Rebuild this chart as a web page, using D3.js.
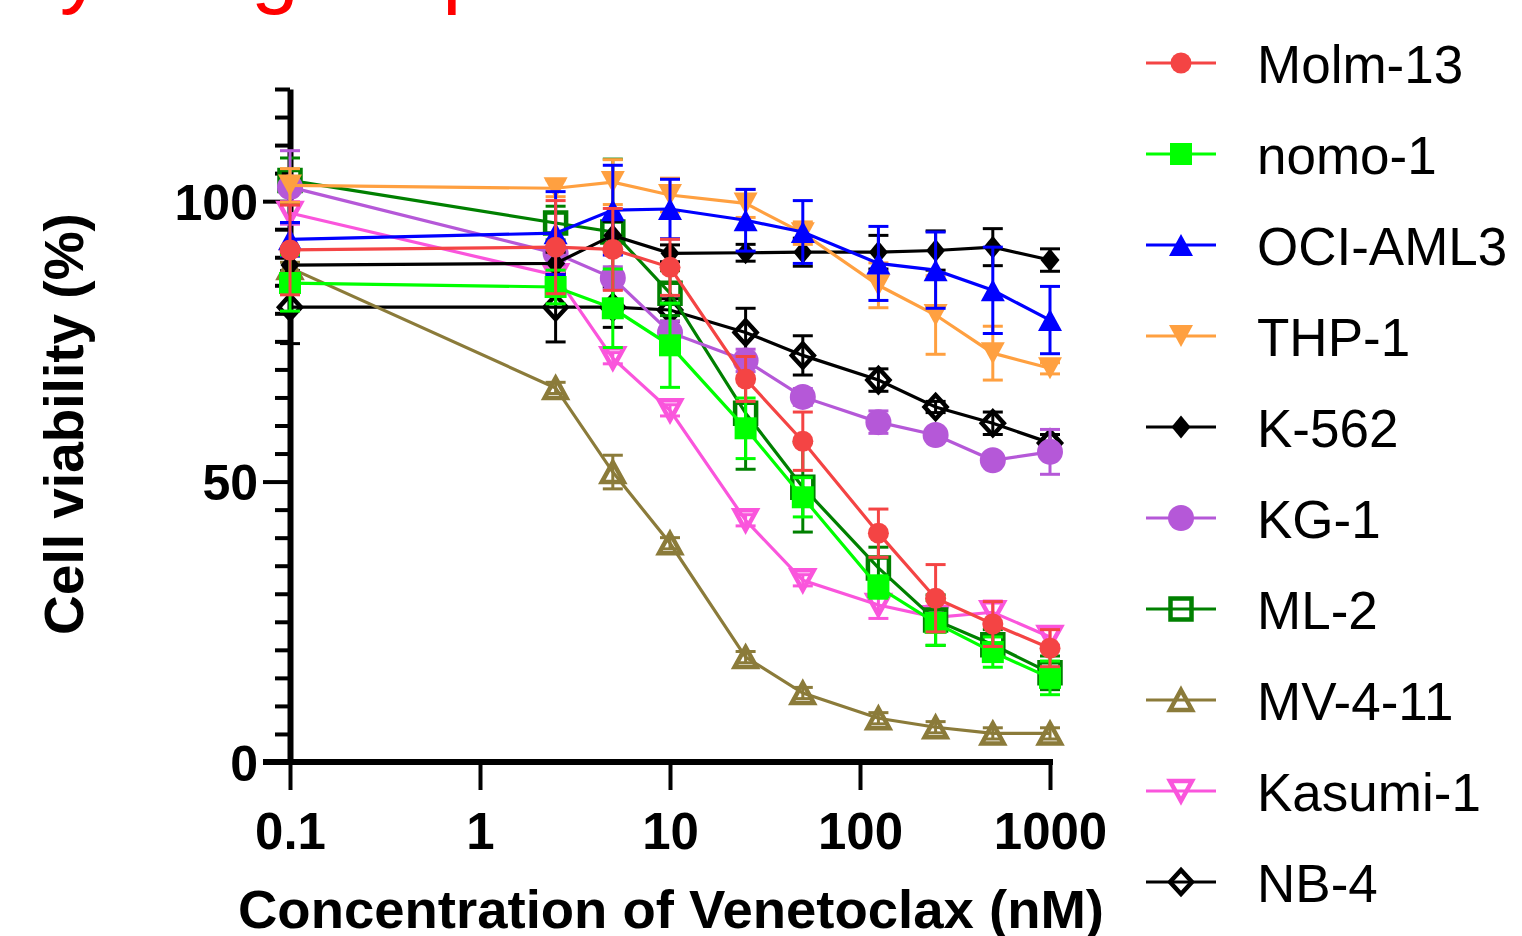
<!DOCTYPE html>
<html>
<head>
<meta charset="utf-8">
<script src="https://cdn.jsdelivr.net/npm/d3@7"></script>
<style>
  body { margin: 0; background: #fff; }
  svg { display: block; font-family: "Liberation Sans", Arial, sans-serif; }
</style>
</head>
<body>
<svg id="chart"></svg>
<script>
// doses in nM (first point plotted at 0.1)
const doses = [0.1, 2.5, 5, 10, 25, 50, 125, 250, 500, 1000];

const cellLines = ["Molm-13", "nomo-1", "OCI-AML3", "THP-1", "K-562", "KG-1", "ML-2", "MV-4-11", "Kasumi-1", "NB-4"];

// mean viability (%) and SD
const molm13 = [91.3, 91.8, 91.4, 88.2, 68.3, 57.2, 40.8, 29.2, 24.6, 20.3];
const molm13Err = [8, 8.3, 7.3, 5, 4, 5.2, 4.3, 6, 4, 3.3];
const nomo1 = [85.4, 84.7, 80.9, 74.3, 59.5, 47.2, 31.2, 24.8, 19.6, 15.0];
const nomo1Err = [5, 3, 7, 7.5, 5.4, 3.5, 2, 4, 2.7, 3];
const ociAml3 = [93.2, 94.3, 98.4, 98.6, 96.6, 94.5, 88.9, 87.7, 84.1, 78.8];
const ociAml3Err = [3, 7.4, 8, 5.3, 5.5, 5.6, 6.6, 6.8, 7.7, 6];
const thp1 = [102.8, 102.3, 103.4, 101.1, 99.6, 94.3, 85.0, 79.7, 72.9, 70.2];
const thp1Err = [3, 1.5, 4, 3, 2.5, 2, 4, 7, 4.8, 1];
const k562 = [88.6, 88.9, 93.9, 90.7, 90.8, 90.9, 90.9, 91.2, 91.8, 89.5];
const k562Err = [2, 2, 2.5, 1.5, 1.5, 2.5, 3, 3.5, 3.3, 2];
const kg1 = [102.5, 90.7, 86.3, 76.6, 71.6, 65.1, 60.6, 58.3, 53.8, 55.3];
const kg1Err = [6.5, 2, 2, 2, 2, 1.5, 2, 1, 1, 4];
const ml2 = [103.7, 96.1, 94.5, 83.6, 62.2, 49.0, 34.6, 25.3, 20.9, 15.9];
const ml2Err = [4, 3, 13, 4, 10, 8, 3.7, 4.5, 2.7, 3];
const mv411 = [88.1, 66.7, 51.7, 39.0, 18.7, 12.3, 7.8, 6.2, 5.1, 5.1];
const mv411Err = [1, 1, 3, 1, 1, 1, 1, 1, 1, 1];
const kasumi1 = [97.9, 86.8, 72.0, 62.7, 43.1, 32.4, 28.0, 25.8, 26.7, 22.3];
const kasumi1Err = [2, 1, 1, 1, 1, 1, 2.4, 2, 2, 1.5];
const nb4 = [81.1, 81.1, 81.1, 80.6, 76.6, 72.5, 68.1, 63.3, 60.4, 56.9];
const nb4Err = [6.5, 6.2, 3.6, 2, 4.3, 3.5, 2, 1, 2, 1.5];

const xTicks = [0.1, 1, 10, 100, 1000];
const xTickLabels = ["0.1", "1", "10", "100", "1000"];
const yMajorTicks = [0, 50, 100];

const values = [molm13, nomo1, ociAml3, thp1, k562, kg1, ml2, mv411, kasumi1, nb4];
const errors = [molm13Err, nomo1Err, ociAml3Err, thp1Err, k562Err, kg1Err, ml2Err, mv411Err, kasumi1Err, nb4Err];

// marker style per cell line
const styles = [
  { color: "#F44444", shape: "circle", w: 21, h: 21, open: false },
  { color: "#00FF00", shape: "square", w: 22, h: 22, open: false },
  { color: "#0000FF", shape: "triUp", w: 24, h: 22, open: false },
  { color: "#FFA040", shape: "triDown", w: 24, h: 22, open: false },
  { color: "#000000", shape: "diamond", w: 19, h: 23, open: false },
  { color: "#B558D8", shape: "circle", w: 26, h: 26, open: false },
  { color: "#008000", shape: "square", w: 21, h: 21, open: true },
  { color: "#8B7B3A", shape: "triUp", w: 22, h: 20, open: true },
  { color: "#FA55DC", shape: "triDown", w: 22, h: 20, open: true },
  { color: "#000000", shape: "diamond", w: 22, h: 24, open: true }
];

const width = 1522, height = 936;

const svg = d3.select("#chart").attr("width", width).attr("height", height);

var x = d3.scaleLog().domain([0.1, 1000]).range([290, 1050]);
var y = d3.scaleLinear().domain([0, 120]).range([762, 89]);

function markerPath(s) {
  var w = s.w, h = s.h;
  if (s.shape == "circle") {
    var r = w / 2;
    return "M" + r + ",0A" + r + "," + r + " 0 1,1 " + (-r) + ",0A" + r + "," + r + " 0 1,1 " + r + ",0Z";
  }
  if (s.shape == "square") return "M" + (-w / 2) + "," + (-h / 2) + "h" + w + "v" + h + "h" + (-w) + "Z";
  if (s.shape == "triUp") return "M0," + (-h / 2) + "L" + (w / 2) + "," + (h / 2) + "L" + (-w / 2) + "," + (h / 2) + "Z";
  if (s.shape == "triDown") return "M0," + (h / 2) + "L" + (w / 2) + "," + (-h / 2) + "L" + (-w / 2) + "," + (-h / 2) + "Z";
  return "M0," + (-h / 2) + "L" + (w / 2) + ",0L0," + (h / 2) + "L" + (-w / 2) + ",0Z";
}

function styleMarker(sel, s) {
  sel.attr("d", markerPath(s))
    .attr("fill", s.open ? "none" : s.color)
    .attr("stroke", s.open ? s.color : "none")
    .attr("stroke-width", s.open ? 4.5 : 0);
}

// red panel title, mostly cropped off the top
svg.append("text")
  .attr("x", 12)
  .attr("y", -3)
  .attr("font-size", 86)
  .attr("fill", "#FF0000")
  .text("by drug response");

// y axis
var yAxis = d3.axisLeft(y)
  .tickValues(d3.range(0, 121, 5))
  .tickSize(15)
  .tickSizeOuter(0)
  .tickFormat((d) => (yMajorTicks.includes(d) ? d : ""));

var gy = svg.append("g").attr("transform", "translate(290,0)").call(yAxis);
gy.select(".domain").attr("stroke", "#000").attr("stroke-width", 6);
gy.selectAll(".tick line")
  .attr("stroke", "#000")
  .attr("stroke-width", 4)
  .attr("x2", (d) => (yMajorTicks.includes(d) ? -27 : -15));
gy.selectAll(".tick text")
  .attr("x", -32)
  .attr("dy", "0.36em")
  .attr("fill", "#000")
  .attr("font-size", 50)
  .attr("font-weight", "bold")
  .attr("font-family", "Liberation Sans, Arial, sans-serif");

// x axis
var xAxis = d3.axisBottom(x)
  .tickValues(xTicks)
  .tickSize(28)
  .tickSizeOuter(0)
  .tickFormat((d, i) => xTickLabels[i]);

var gx = svg.append("g").attr("transform", "translate(0,762)").call(xAxis);
gx.select(".domain").attr("stroke", "#000").attr("stroke-width", 6)
  .attr("d", "M263,0H1053");
gx.selectAll(".tick line").attr("stroke", "#000").attr("stroke-width", 4);
gx.selectAll(".tick text")
  .attr("y", 87)
  .attr("dy", 0)
  .attr("fill", "#000")
  .attr("font-size", 51)
  .attr("font-weight", "bold")
  .attr("font-family", "Liberation Sans, Arial, sans-serif");

// axis titles
svg.append("text")
  .attr("x", 671)
  .attr("y", 928)
  .attr("text-anchor", "middle")
  .attr("font-size", 54.5)
  .attr("font-weight", "bold")
  .text("Concentration of Venetoclax (nM)");

svg.append("text")
  .attr("transform", "translate(83,424) rotate(-90)")
  .attr("text-anchor", "middle")
  .attr("font-size", 55)
  .attr("font-weight", "bold")
  .text("Cell viability (%)");

var line = d3.line()
  .x((d) => x(d.dose))
  .y((d) => y(d.value));

// draw last data set first so Molm-13 ends up on top
var order = d3.range(cellLines.length).reverse();

order.forEach(function (k) {
  var s = styles[k];
  var pts = doses.map((dose, i) => ({ dose: dose, value: values[k][i], err: errors[k][i] }));
  var g = svg.append("g").attr("class", "series");

  g.append("path")
    .datum(pts)
    .attr("d", line)
    .attr("fill", "none")
    .attr("stroke", s.color)
    .attr("stroke-width", 3.2);

  var eb = g.selectAll(".err").data(pts).enter().append("g").attr("class", "err");
  eb.append("line")
    .attr("x1", (d) => x(d.dose)).attr("x2", (d) => x(d.dose))
    .attr("y1", (d) => y(d.value + d.err)).attr("y2", (d) => y(d.value - d.err));
  eb.append("line")
    .attr("x1", (d) => x(d.dose) - 10).attr("x2", (d) => x(d.dose) + 10)
    .attr("y1", (d) => y(d.value + d.err)).attr("y2", (d) => y(d.value + d.err));
  eb.append("line")
    .attr("x1", (d) => x(d.dose) - 10).attr("x2", (d) => x(d.dose) + 10)
    .attr("y1", (d) => y(d.value - d.err)).attr("y2", (d) => y(d.value - d.err));
  eb.selectAll("line").attr("stroke", s.color).attr("stroke-width", 3);

  g.selectAll(".pt")
    .data(pts)
    .enter()
    .append("path")
    .attr("class", "pt")
    .attr("transform", (d) => "translate(" + x(d.dose) + "," + y(d.value) + ")")
    .call(styleMarker, s);
});

// legend
var legend = svg.append("g").attr("class", "legend");
cellLines.forEach(function (name, i) {
  var ly = 63 + i * 91;
  legend.append("line")
    .attr("x1", 1146).attr("x2", 1216)
    .attr("y1", ly).attr("y2", ly)
    .attr("stroke", styles[i].color)
    .attr("stroke-width", 3);
  legend.append("path")
    .attr("transform", "translate(1181," + ly + ")")
    .call(styleMarker, styles[i]);
  legend.append("text")
    .attr("x", 1257)
    .attr("y", ly + 20)
    .attr("font-size", 53)
    .attr("fill", "#000")
    .text(name);
});
</script>
</body>
</html>
